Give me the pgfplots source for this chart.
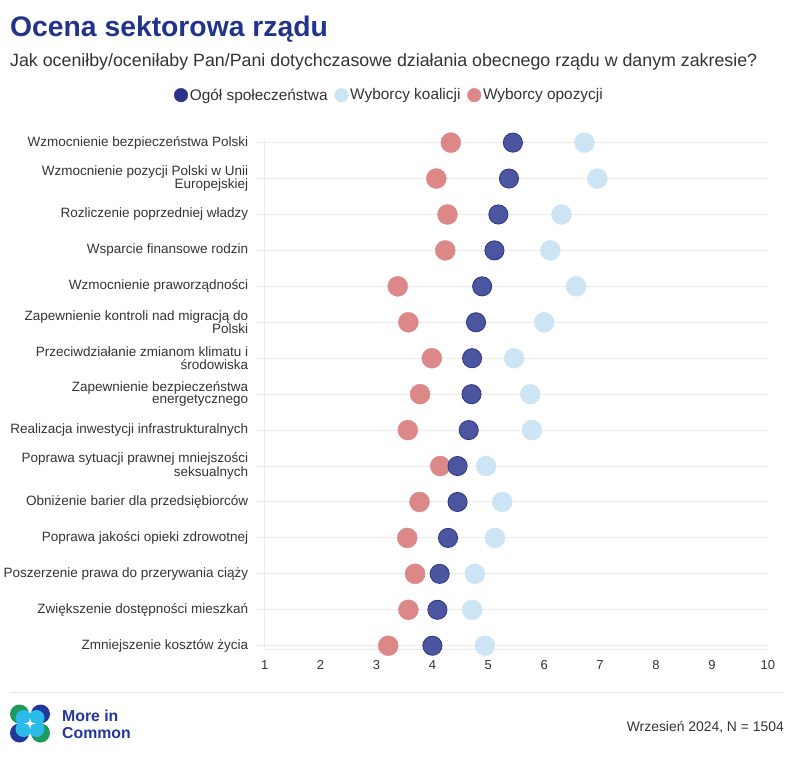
\documentclass[border=0pt]{standalone}
\usepackage{fontspec}
\setmainfont{Liberation Sans}
\usepackage{pgfplots}
\usepackage{pgfplotstable}
\pgfplotsset{compat=1.18}
\definecolor{titleblue}{HTML}{22338A}
\definecolor{navyc}{HTML}{4B55A0}
\definecolor{navyedge}{HTML}{2C3783}
\definecolor{legnavy}{HTML}{2B3488}
\definecolor{lightc}{HTML}{CCE4F4}
\definecolor{redc}{HTML}{DC8888}
\definecolor{gridgray}{HTML}{EBEBEB}
\definecolor{txtgray}{HTML}{333333}
\definecolor{logogreen}{HTML}{1E9A5A}
\definecolor{logonavy}{HTML}{22379A}
\definecolor{logocyan}{HTML}{2BBBEA}

\pgfplotstableread{
y navy light red
0 4.00 4.94 3.21
1 4.09 4.71 3.57
2 4.13 4.76 3.69
3 4.28 5.12 3.55
4 4.45 5.25 3.77
5 4.45 4.96 4.14
6 4.65 5.78 3.56
7 4.70 5.75 3.78
8 4.71 5.46 3.99
9 4.78 6.00 3.57
10 4.89 6.57 3.38
11 5.11 6.11 4.23
12 5.18 6.31 4.27
13 5.37 6.95 4.07
14 5.44 6.72 4.33
}\datatable

\begin{document}
\begin{tikzpicture}[x=1pt,y=1pt]
\useasboundingbox (0,0) rectangle (794,-758);
% title
\node[anchor=base west, inner sep=0, text=titleblue, font=\fontsize{28.3}{30}\selectfont\bfseries] at (10,-36) {Ocena sektorowa rządu};
\node[anchor=base west, inner sep=0, text=txtgray, font=\fontsize{17.8}{19}\selectfont] at (10,-66) {Jak oceniłby/oceniłaby Pan/Pani dotychczasowe działania obecnego rządu w danym zakresie?};

\begin{axis}[
  at={(264.7pt,-649.3pt)}, anchor=south west,
  scale only axis, width=503.1pt, height=510.3pt,
  xmin=1, xmax=10, ymin=-0.1, ymax=14.1,
  clip=false,
  axis x line*=bottom, axis y line*=left,
  axis line style={draw=gridgray, line width=1pt, -},
  xtick={1,...,10},
  ytick={0,...,14},
  yticklabels={Zmniejszenie kosztów życia, Zwiększenie dostępności mieszkań, Poszerzenie prawa do przerywania ciąży, Poprawa jakości opieki zdrowotnej, Obniżenie barier dla przedsiębiorców, {Poprawa sytuacji prawnej mniejszości\\seksualnych}, Realizacja inwestycji infrastrukturalnych, {Zapewnienie bezpieczeństwa\\energetycznego}, {Przeciwdziałanie zmianom klimatu i\\środowiska}, {Zapewnienie kontroli nad migracją do\\Polski}, Wzmocnienie praworządności, Wsparcie finansowe rodzin, Rozliczenie poprzedniej władzy, {Wzmocnienie pozycji Polski w Unii\\Europejskiej}, Wzmocnienie bezpieczeństwa Polski},
  yticklabel style={align=right, text=txtgray, font=\fontsize{13.5}{12.5}\selectfont, xshift=-5pt},
  xticklabel style={text=txtgray, font=\fontsize{13}{14}\selectfont},
  /pgf/number format/assume math mode=true,
  tick align=outside,
  ytick style={draw=gridgray, line width=1pt},
  xtick style={draw=none},
  major tick length=8pt,
  ymajorgrids, major grid style={draw=gridgray, line width=1pt},
  legend columns=-1,
  legend style={draw=none, fill=none, at={(0.248,1.086)}, anchor=center,
    font=\fontsize{15.4}{16}\selectfont, text=txtgray,
    /tikz/every even column/.append style={column sep=5pt}},
]
\addlegendimage{only marks, mark=*, mark size=6.8pt, mark options={fill=legnavy, draw=legnavy}}
\addlegendentry{Ogół społeczeństwa}
\addlegendimage{only marks, mark=*, mark size=6.8pt, mark options={fill=lightc, draw=lightc}}
\addlegendentry{Wyborcy koalicji}
\addlegendimage{only marks, mark=*, mark size=6.8pt, mark options={fill=redc, draw=redc}}
\addlegendentry{Wyborcy opozycji}
\addplot[forget plot, only marks, mark=*, mark size=10pt, mark options={fill=redc, draw=redc}] table[x=red, y=y] {\datatable};
\addplot[forget plot, only marks, mark=*, mark size=10pt, mark options={fill=lightc, draw=lightc}] table[x=light, y=y] {\datatable};
\addplot[forget plot, only marks, mark=*, mark size=9.6pt, mark options={fill=navyc, draw=navyedge, line width=0.8pt}] table[x=navy, y=y] {\datatable};
\end{axis}

% footer
\draw[draw=gridgray!80!gray!60, line width=1pt] (10,-692.5) -- (784,-692.5);
\begin{scope}[shift={(30,-723.5)}]
  \fill[logogreen] (-10.5,9.5) circle (9.5);
  \fill[logonavy] (10.5,9.5) circle (9.5);
  \fill[logonavy] (-10.5,-9.5) circle (9.5);
  \fill[logogreen] (10.5,-9.5) circle (9.5);
  \fill[logocyan] (-6.5,5.5) circle (8);
  \fill[logocyan] (6.5,5.5) circle (8);
  \fill[logocyan] (-6.5,-5.5) circle (8);
  \fill[logocyan] (6.5,-5.5) circle (8);
  \fill[logocyan] (0,0) circle (9);
  \fill[white] (0,6) .. controls (0.8,0.8) .. (6,0) .. controls (0.8,-0.8) .. (0,-6) .. controls (-0.8,-0.8) .. (-6,0) .. controls (-0.8,0.8) .. (0,6) -- cycle;
\end{scope}
\node[anchor=base west, inner sep=0, text=logonavy, font=\fontsize{15.8}{15}\selectfont\bfseries] at (62,-721) {More in};
\node[anchor=base west, inner sep=0, text=logonavy, font=\fontsize{15.8}{15}\selectfont\bfseries] at (62,-738.5) {Common};
\node[anchor=base east, inner sep=0, text=txtgray, font=\fontsize{13.9}{16}\selectfont] at (784,-731) {Wrzesień 2024, N = 1504};
\end{tikzpicture}
\end{document}
